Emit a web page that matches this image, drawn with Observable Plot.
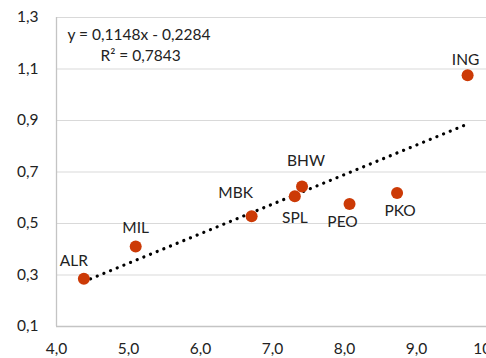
<!DOCTYPE html>
<html>
<head>
<meta charset="utf-8">
<script src="https://cdn.jsdelivr.net/npm/d3@7"></script>
<script src="https://cdn.jsdelivr.net/npm/@observablehq/plot@0.6"></script>
<style>
  html, body { margin: 0; padding: 0; background: #fff; overflow: hidden; }
  #chart { width: 486px; height: 358px; overflow: hidden; }
</style>
</head>
<body>
<div id="chart"></div>
<script>
const names = ["ALR", "MIL", "MBK", "SPL", "BHW", "PEO", "PKO", "ING"];
const xValues = [4.38, 5.10, 6.71, 7.31, 7.41, 8.07, 8.73, 9.71];
const yValues = [0.285, 0.411, 0.528, 0.606, 0.644, 0.576, 0.618, 1.076];
const slope = 0.1148;
const intercept = -0.2284;
const equationText = "y = 0,1148x - 0,2284";
const r2Text = "R² = 0,7843";
const xTicks = [4, 5, 6, 7, 8, 9, 10];
const yTicks = [0.1, 0.3, 0.5, 0.7, 0.9, 1.1, 1.3];
// label offsets (dx, dy) per point
const labelDx = [-10, 0, -16, 0, 4, -7, 3, -2];
const labelDy = [-18, -18, -23, 22, -25, 18, 18, -15];

const points = names.map((n, i) => ({name: n, x: xValues[i], y: yValues[i], dx: labelDx[i], dy: labelDy[i]}));
const xMin = d3.min(xValues), xMax = d3.max(xValues);
const trend = [xMin, xMax].map(x => ({x, y: slope * x + intercept}));

const fmt = d => d.toFixed(1).replace(".", ",");
const font = "Lato, 'Open Sans', sans-serif";
const fs = 15.5;

const labelMarks = points.map(p => Plot.text([p], {x: "x", y: "y", text: "name", dx: p.dx, dy: p.dy, fontSize: fs, fill: "#222", fontFamily: font, letterSpacing: "0.6px"}));

const chart = Plot.plot({
  width: 486,
  height: 358,
  marginLeft: 56,
  marginTop: 17,
  marginBottom: 32,
  marginRight: 0,
  style: {fontFamily: font, fontSize: fs + "px", color: "#222", background: "#fff"},
  x: {domain: [4, 10], range: [56, 488]},
  y: {domain: [0.1, 1.3]},
  marks: [
    Plot.ruleY(yTicks.filter(t => t > 0.1), {stroke: "#d9d9d9", strokeWidth: 1.2}),
    Plot.ruleY([0.1], {stroke: "#c4c4c4", strokeWidth: 1.3}),
    Plot.ruleX([4], {y1: 0.1, y2: 1.3, stroke: "#c4c4c4", strokeWidth: 1.3}),
    Plot.axisY({ticks: yTicks, tickSize: 0, tickPadding: 18, tickFormat: fmt, label: null, fontSize: fs}),
    Plot.axisX({ticks: xTicks, tickSize: 0, tickPadding: 16, tickFormat: fmt, label: null, fontSize: fs}),
    Plot.line(trend, {x: "x", y: "y", stroke: "#000", strokeWidth: 3.2, strokeDasharray: "0.1,7.1", strokeLinecap: "round"}),
    Plot.dot(points, {x: "x", y: "y", r: 6, fill: "#cc3a06", stroke: "none"}),
    ...labelMarks,
    Plot.text([equationText], {frameAnchor: "top-left", dx: 11, dy: 11, textAnchor: "start", fontSize: fs, fill: "#222", fontFamily: font}),
    Plot.text([r2Text], {frameAnchor: "top-left", dx: 44, dy: 32, textAnchor: "start", fontSize: fs, fill: "#222", fontFamily: font})
  ]
});
document.getElementById("chart").append(chart);
</script>
</body>
</html>
